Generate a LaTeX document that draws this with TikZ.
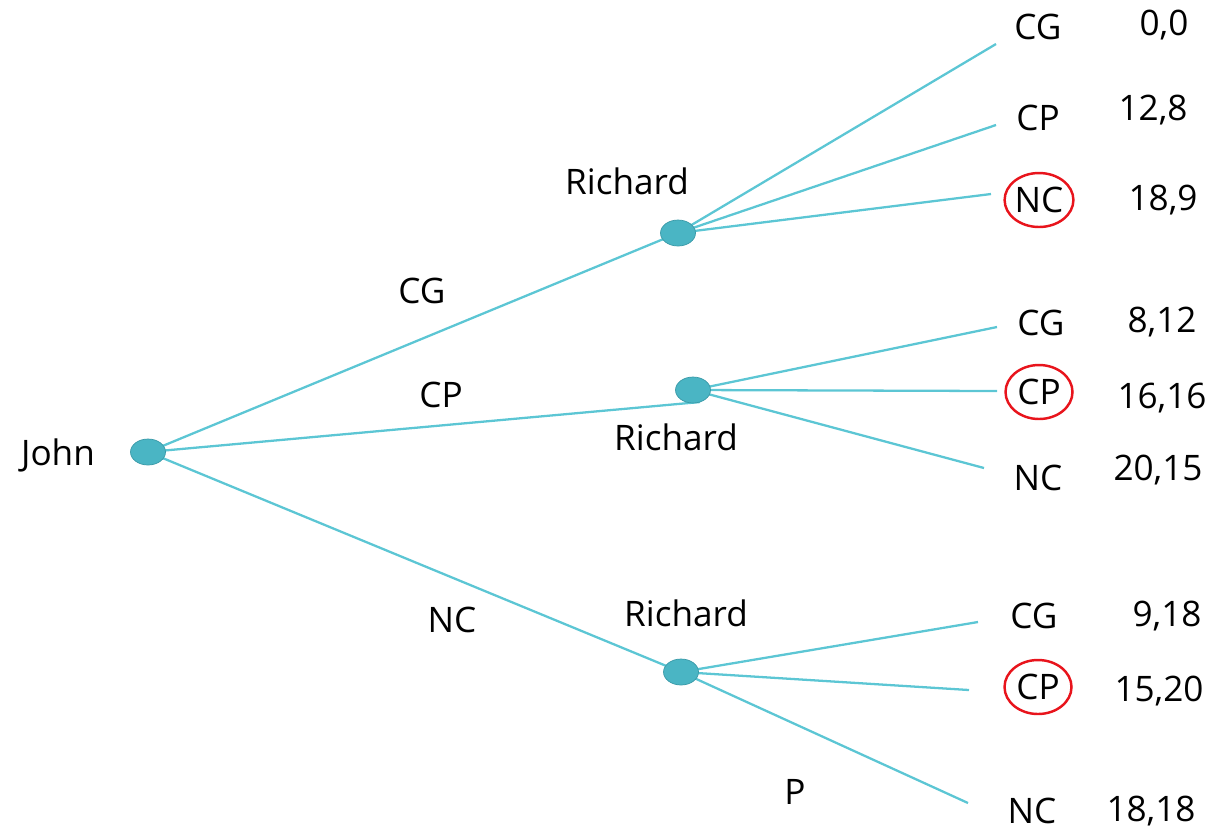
\documentclass[tikz,border=0pt]{standalone}
\usepackage{fontspec}
\setmainfont{Open Sans}
\usetikzlibrary{shapes.geometric,backgrounds}
\definecolor{teal1}{HTML}{5CC6D4}
\definecolor{nodefill}{HTML}{4AB5C4}
\definecolor{nodeline}{HTML}{3A9AA8}
\definecolor{circred}{HTML}{E8141C}
\tikzset{
  dec/.style={ellipse,fill=nodefill,draw=nodeline,line width=0.4pt,minimum width=0.7cm,minimum height=0.52cm,inner sep=0pt},
  txt/.style={font=\fontsize{20}{24}\selectfont,inner sep=0pt,text=black},
  ring/.style={txt,ellipse,draw=circred,line width=1.4pt,minimum width=1.34cm,minimum height=1.08cm},
  branch/.style={draw=teal1,line width=1.3pt}
}
\begin{document}
\begin{tikzpicture}[x=0.02cm,y=-0.02cm]
\useasboundingbox (0,0) rectangle (1212,833);
% decision nodes
\node[dec] (j) at (148,452) {};
\node[dec] (r1) at (678,233) {};
\node[dec] (r2) at (693,390) {};
\node[dec] (r3) at (681,672) {};
% player labels
\node[txt] (lj) at (58,455) {John};
\node[txt] (lr1) at (627,181) {Richard};
\node[txt] (lr2) at (676,437) {Richard};
\node[txt] (lr3) at (686,613) {Richard};
% branch ends
\coordinate (e2) at (700,402);
\coordinate (a1) at (996,44);
\coordinate (a2) at (996,125);
\coordinate (a3) at (991,194);
\coordinate (b1) at (997,327);
\coordinate (b2) at (997,391);
\coordinate (b3) at (984,468);
\coordinate (c1) at (978,622);
\coordinate (c2) at (969,690);
\coordinate (c3) at (968,803);
\begin{scope}[on background layer]
\draw[branch] (j.center) -- (r1.center);
\draw[branch] (j.center) -- (e2);
\draw[branch] (j.center) -- (r3.center);
\draw[branch] (r1.center) -- (a1);
\draw[branch] (r1.center) -- (a2);
\draw[branch] (r1.center) -- (a3);
\draw[branch] (r2.center) -- (b1);
\draw[branch] (r2.center) -- (b2);
\draw[branch] (r2.center) -- (b3);
\draw[branch] (r3.center) -- (c1);
\draw[branch] (r3.center) -- (c2);
\draw[branch] (r3.center) -- (c3);
\end{scope}
% move labels
\node[txt] (m1) at (422,291) {CG};
\node[txt] (m2) at (441,395) {CP};
\node[txt] (m3) at (452,620) {NC};
\node[txt] (m4) at (795,792) {P};
% leaf labels
\node[txt] (l1) at (1038,27) {CG};
\node[txt] (l2) at (1038,118) {CP};
\node[ring] (l3) at (1039,200) {NC};
\node[txt] (l4) at (1041,323) {CG};
\node[ring] (l5) at (1039,392) {CP};
\node[txt] (l6) at (1038,478) {NC};
\node[txt] (l7) at (1034,616) {CG};
\node[ring] (l8) at (1038,687) {CP};
\node[txt] (l9) at (1032,811) {NC};
% payoffs
\node[txt] (p1) at (1164,25) {0,0};
\node[txt] (p2) at (1153,110) {12,8};
\node[txt] (p3) at (1163,200) {18,9};
\node[txt] (p4) at (1162,322) {8,12};
\node[txt] (p5) at (1162,398) {16,16};
\node[txt] (p6) at (1158,470) {20,15};
\node[txt] (p7) at (1167,616) {9,18};
\node[txt] (p8) at (1159,691) {15,20};
\node[txt] (p9) at (1151,811) {18,18};
\end{tikzpicture}
\end{document}
